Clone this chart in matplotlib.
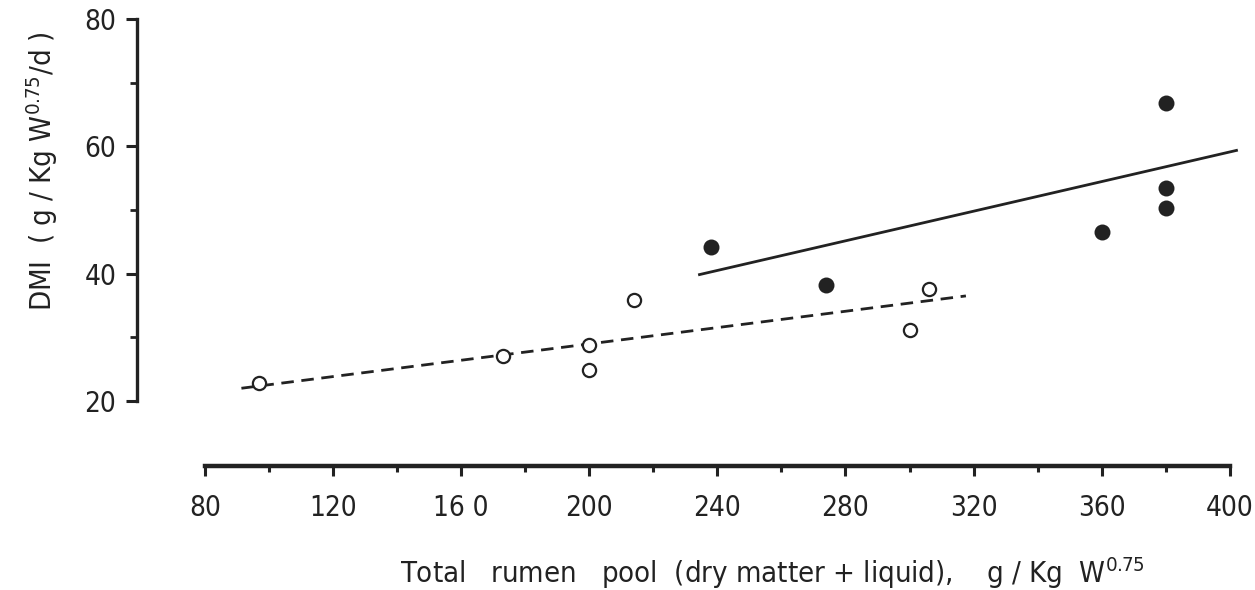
import matplotlib
matplotlib.use("Agg")
import matplotlib.pyplot as plt

# data
open_x = [97, 173, 200, 200, 214, 300, 306]
open_y = [22.8, 27.1, 28.8, 24.9, 35.9, 31.1, 37.6]
filled_x = [238, 274, 360, 380, 380, 380]
filled_y = [44.2, 38.2, 46.6, 66.8, 53.5, 50.3]

# fitted lines (end points)
solid_x = [234, 402.5]
solid_y = [39.8, 59.4]
dashed_x = [91.4, 317.6]
dashed_y = [22.0, 36.5]

xticks = [80, 120, 160, 200, 240, 280, 320, 360, 400]
xticklabels = ["80", "120", "16 0", "200", "240", "280", "320", "360", "400"]
xminor = [100, 140, 180, 220, 260, 300, 340, 380]
yticks = [20, 40, 60, 80]
yminor = [30, 50, 70]

plt.rcParams["font.family"] = ["DejaVu Sans"]
plt.rcParams["font.stretch"] = "condensed"
plt.rcParams["lines.scale_dashes"] = False

ink = "#222222"

fig = plt.figure(figsize=(12.55, 5.9), dpi=100)
ax = fig.add_axes([137/1255, 124/590, 1113/1255, 456/590])

ax.plot(solid_x, solid_y, color=ink, lw=2.0, solid_capstyle="butt")
ax.plot(dashed_x, dashed_y, color=ink, lw=2.0, dashes=(9.0, 5.5))
ax.plot(open_x, open_y, "o", ms=9.5, mfc="white", mec=ink, mew=1.6, zorder=3)
ax.plot(filled_x, filled_y, "o", ms=11.5, mfc=ink, mec=ink, mew=0, zorder=3)

ax.set_xlim(58.8, 406.3)
ax.set_ylim(9.79, 81.4)

for s in ["top", "right"]:
    ax.spines[s].set_visible(False)
ax.spines["bottom"].set_bounds(80, 400)
ax.spines["bottom"].set_linewidth(3.2)
ax.spines["left"].set_bounds(20, 80)
ax.spines["left"].set_linewidth(2.4)
ax.spines["bottom"].set_color(ink)
ax.spines["left"].set_color(ink)

ax.set_xticks(xticks)
ax.set_xticklabels(xticklabels)
ax.set_xticks(xminor, minor=True)
ax.set_yticks(yticks)
ax.set_yticks(yminor, minor=True)

ax.tick_params(axis="x", which="major", length=7, width=2.2, color=ink,
               labelsize=20, pad=13, labelcolor=ink)
ax.tick_params(axis="x", which="minor", length=4, width=2.2, color=ink)
ax.tick_params(axis="y", which="major", length=8, width=2.2, color=ink,
               labelsize=20, pad=7, labelcolor=ink)
ax.tick_params(axis="y", which="minor", length=5, width=2.0, color=ink)

ax.set_xlabel("Total   rumen   pool  (dry matter + liquid),    g / Kg  W$^{0.75}$",
              fontsize=21, color=ink)
ax.xaxis.set_label_coords(0.571, -0.2566)
ax.xaxis.label.set_va("baseline")

ax.set_ylabel("DMI  ( g / Kg W$^{0.75}$/d )", fontsize=21, color=ink)
ax.yaxis.set_label_coords(-0.0854, 0.647)
ax.yaxis.label.set_va("center")

fig.savefig("out.png", dpi=100)
